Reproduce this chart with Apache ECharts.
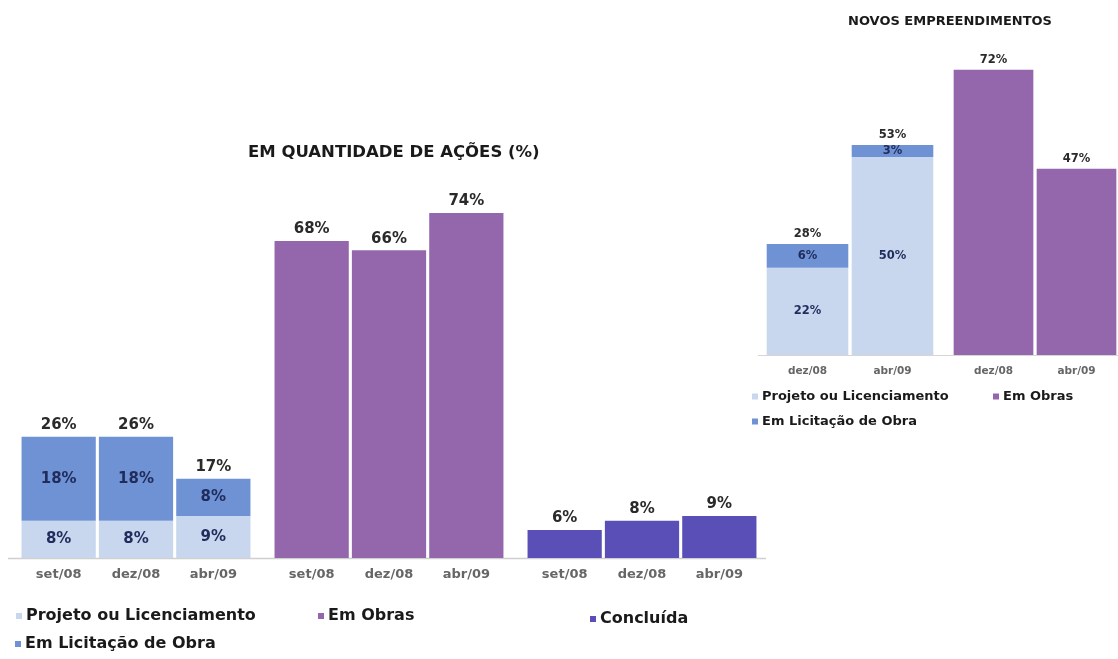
<!DOCTYPE html>
<html>
<head>
<meta charset="utf-8">
<script src="https://cdn.jsdelivr.net/npm/echarts@6/dist/echarts.min.js"></script>
<style>
html,body{margin:0;padding:0;background:#fff;}
#chart{width:1118px;height:659px;}
</style>
</head>
<body>
<div id="chart"></div>
<script>
// ---- Data ----
const leftTitle = 'EM QUANTIDADE DE AÇÕES (%)';
const rightTitle = 'NOVOS EMPREENDIMENTOS';
const leftCategories = ['set/08', 'dez/08', 'abr/09'];
const leftProjeto = [8, 8, 9];
const leftLicitacao = [18, 18, 8];
const leftTotalPL = [26, 26, 17];
const leftObras = [68, 66, 74];
const leftConcluida = [6, 8, 9];
const rightCategories = ['dez/08', 'abr/09'];
const rightProjeto = [22, 50];
const rightLicitacao = [6, 3];
const rightTotalPL = [28, 53];
const rightObras = [72, 47];

const SERIES_NAMES = {
  projeto: 'Projeto ou Licenciamento',
  licitacao: 'Em Licitação de Obra',
  obras: 'Em Obras',
  concluida: 'Concluída'
};

// ---- Styles ----
const FONT = 'DejaVu Sans';
const C_PROJ = '#c8d6ee';
const C_LIC = '#6f92d4';
const C_OBRAS = '#9467ad';
const C_CONC = '#5a4fb6';
const C_INNER = '#1f2c5c';
const C_TOP = '#2a2a2a';

const chart = echarts.init(document.getElementById('chart'));

function xAxis(grid, cats, fs, margin) {
  return {
    type: 'category', gridIndex: grid, data: cats,
    axisLine: {show: false}, axisTick: {show: false},
    axisLabel: {fontFamily: FONT, fontWeight: 'bold', fontSize: fs, color: '#666666', margin: margin}
  };
}
function yAxis(grid) {
  return {type: 'value', gridIndex: grid, min: 0, max: 80, show: false, splitLine: {show: false}};
}
function lbl(pos, fs, color) {
  return {show: true, position: pos, formatter: '{c}%', fontFamily: FONT, fontWeight: 'bold',
          fontSize: fs, color: color, distance: 4};
}
function legend(name, left, top, fs) {
  return {
    data: [name], left: left, top: top, icon: 'rect', itemWidth: 6, itemHeight: 6, itemGap: 4,
    padding: 0, selectedMode: false,
    textStyle: {fontFamily: FONT, fontWeight: 'bold', fontSize: fs, color: '#1a1a1a', padding: [0, 0, 0, -1]}
  };
}

const gap = '4%';
const option = {
  backgroundColor: '#ffffff',
  animation: false,
  title: [
    {text: leftTitle, left: 243, top: 139,
     textStyle: {fontFamily: FONT, fontWeight: 'bold', fontSize: 16.5, color: '#1a1a1a'}},
    {text: rightTitle, left: 843, top: 10,
     textStyle: {fontFamily: FONT, fontWeight: 'bold', fontSize: 13, color: '#1a1a1a'}}
  ],
  legend: [
    legend(SERIES_NAMES.projeto, 16, 608, 16),
    legend(SERIES_NAMES.licitacao, 15, 636, 16),
    legend(SERIES_NAMES.obras, 318, 608, 16),
    legend(SERIES_NAMES.concluida, 590, 611, 16),
    legend(SERIES_NAMES.projeto, 752, 390, 13),
    legend(SERIES_NAMES.licitacao, 752, 415, 13),
    legend(SERIES_NAMES.obras, 993, 390, 13)
  ],
  grid: [
    {left: 20, width: 232, top: 185, bottom: 101},
    {left: 273, width: 232, top: 185, bottom: 101},
    {left: 526, width: 232, top: 185, bottom: 101},
    {left: 765, width: 170, top: 38, bottom: 304},
    {left: 952, width: 170, top: 38, bottom: 304}
  ],
  xAxis: [
    xAxis(0, leftCategories, 13, 10),
    xAxis(1, leftCategories, 13, 10),
    xAxis(2, leftCategories, 13, 10),
    xAxis(3, rightCategories, 10.5, 11),
    xAxis(4, rightCategories, 10.5, 11)
  ],
  yAxis: [yAxis(0), yAxis(1), yAxis(2), yAxis(3), yAxis(4)],
  graphic: [
    {type: 'line', z: 0, shape: {x1: 8, y1: 558.5, x2: 766, y2: 558.5}, style: {stroke: '#cfcfcf', lineWidth: 1.5}},
    {type: 'line', z: 0, shape: {x1: 758, y1: 355.5, x2: 1118, y2: 355.5}, style: {stroke: '#d6d6d6', lineWidth: 1}}
  ],
  series: [
    // Left chart, group 1
    {name: SERIES_NAMES.projeto, type: 'bar', xAxisIndex: 0, yAxisIndex: 0, stack: 'l', data: leftProjeto,
     barCategoryGap: gap, itemStyle: {color: C_PROJ}, label: lbl('inside', 15, C_INNER)},
    {name: SERIES_NAMES.licitacao, type: 'bar', xAxisIndex: 0, yAxisIndex: 0, stack: 'l', data: leftLicitacao,
     barCategoryGap: gap, itemStyle: {color: C_LIC}, label: lbl('inside', 15, C_INNER)},
    {name: 'Total', type: 'bar', xAxisIndex: 0, yAxisIndex: 0, data: leftTotalPL, barGap: '-100%',
     barCategoryGap: gap, itemStyle: {color: 'rgba(0,0,0,0)'}, label: lbl('top', 15, C_TOP), z: 1, silent: true},
    // Left chart, group 2
    {name: SERIES_NAMES.obras, type: 'bar', xAxisIndex: 1, yAxisIndex: 1, data: leftObras,
     barCategoryGap: gap, itemStyle: {color: C_OBRAS}, label: lbl('top', 15, C_TOP)},
    // Left chart, group 3
    {name: SERIES_NAMES.concluida, type: 'bar', xAxisIndex: 2, yAxisIndex: 2, data: leftConcluida,
     barCategoryGap: gap, itemStyle: {color: C_CONC}, label: lbl('top', 15, C_TOP)},
    // Right chart
    {name: SERIES_NAMES.projeto, type: 'bar', xAxisIndex: 3, yAxisIndex: 3, stack: 'r', data: rightProjeto,
     barCategoryGap: gap, itemStyle: {color: C_PROJ}, label: lbl('inside', 11.5, C_INNER)},
    {name: SERIES_NAMES.licitacao, type: 'bar', xAxisIndex: 3, yAxisIndex: 3, stack: 'r', data: rightLicitacao,
     barCategoryGap: gap, itemStyle: {color: C_LIC}, label: lbl('inside', 11.5, C_INNER)},
    {name: 'TotalR', type: 'bar', xAxisIndex: 3, yAxisIndex: 3, data: rightTotalPL, barGap: '-100%',
     barCategoryGap: gap, itemStyle: {color: 'rgba(0,0,0,0)'}, label: lbl('top', 11.5, C_TOP), z: 1, silent: true},
    {name: SERIES_NAMES.obras, type: 'bar', xAxisIndex: 4, yAxisIndex: 4, data: rightObras,
     barCategoryGap: gap, itemStyle: {color: C_OBRAS}, label: lbl('top', 11.5, C_TOP)}
  ]
};
chart.setOption(option);
</script>
</body>
</html>
